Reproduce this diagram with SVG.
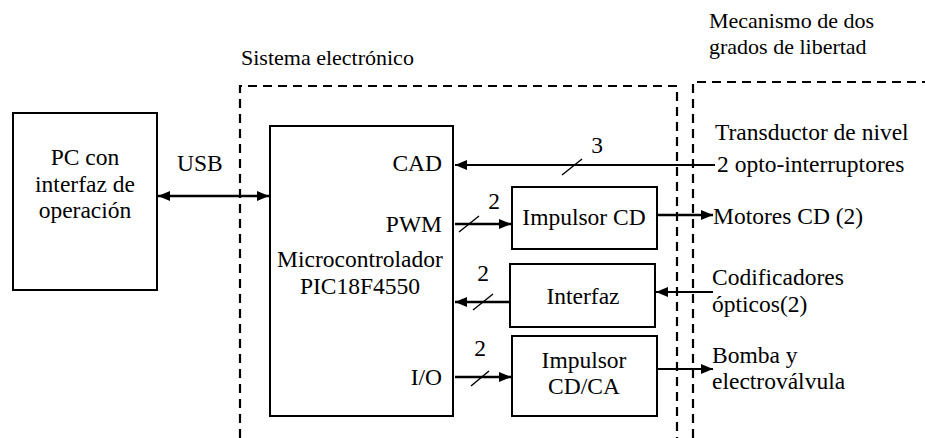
<svg xmlns="http://www.w3.org/2000/svg" width="925" height="438" viewBox="0 0 925 438">
<defs>
<style>
text{font-family:"Liberation Serif","Times New Roman",serif;font-size:23.5px;fill:#000}
.lbl{font-size:22px}
.m{text-anchor:middle}
.e{text-anchor:end}
.box{fill:#fff;stroke:#000;stroke-width:2}
.dash{fill:none;stroke:#000;stroke-width:2.2;stroke-dasharray:9 6}
.w{fill:none;stroke:#000;stroke-width:2.6}
.t{fill:none;stroke:#000;stroke-width:2}
.s{fill:none;stroke:#000;stroke-width:1.5}
</style>
<marker id="ah" viewBox="0 0 12 10" refX="12" refY="5" markerWidth="12" markerHeight="10" markerUnits="userSpaceOnUse" orient="auto-start-reverse">
<path d="M0,0 L12,5 L0,10 z" fill="#000"/>
</marker>
</defs>
<g id="regions">
<path class="dash" d="M240,438 V86 H677 V438"/>
<path class="dash" d="M693,438 V82 H925"/>
<text class="lbl" x="241" y="65">Sistema electrónico</text>
<text class="lbl" x="709" y="28">Mecanismo de dos</text>
<text class="lbl" x="709" y="54">grados de libertad</text>
</g>
<g id="pc">
<rect class="box" x="13" y="113" width="144" height="177"/>
<text class="m" x="85" y="165">PC con</text>
<text class="m" x="85" y="192">interfaz de</text>
<text class="m" x="85" y="218">operación</text>
</g>
<g id="micro">
<rect class="box" x="270" y="126" width="183" height="290"/>
<text class="e" x="442" y="171">CAD</text>
<text class="e" x="442" y="232">PWM</text>
<text class="m" x="360" y="267">Microcontrolador</text>
<text class="m" x="360" y="294">PIC18F4550</text>
<text class="e" x="442" y="385">I/O</text>
</g>
<g id="impulsor-cd">
<rect class="box" x="512" y="187" width="145" height="62"/>
<text class="m" x="584" y="225">Impulsor CD</text>
</g>
<g id="interfaz">
<rect class="box" x="510" y="264" width="145" height="63"/>
<text class="m" x="583" y="304">Interfaz</text>
</g>
<g id="impulsor-cdca">
<rect class="box" x="512" y="336" width="145" height="80"/>
<text class="m" x="584" y="368">Impulsor</text>
<text class="m" x="584" y="394">CD/CA</text>
</g>
<g id="externos">
<text x="715" y="140">Transductor de nivel</text>
<text x="717" y="172">2 opto-interruptores</text>
<text x="713" y="224">Motores CD (2)</text>
<text x="712" y="285">Codificadores</text>
<text x="712" y="312">ópticos(2)</text>
<text x="712" y="363">Bomba y</text>
<text x="712" y="389">electroválvula</text>
</g>
<g id="connectors">
<line class="w" x1="158" y1="196" x2="269" y2="196" marker-start="url(#ah)" marker-end="url(#ah)"/>
<text x="177" y="171">USB</text>
<line class="t" x1="715" y1="165" x2="455" y2="165" marker-end="url(#ah)"/>
<line class="s" x1="562" y1="175" x2="582" y2="159"/>
<text class="m" x="597" y="153">3</text>
<line class="w" x1="455" y1="224" x2="511" y2="224" marker-end="url(#ah)"/>
<line class="s" x1="459" y1="232" x2="479" y2="216"/>
<text class="m" x="494" y="209">2</text>
<line class="w" x1="658" y1="215" x2="713" y2="215" marker-end="url(#ah)"/>
<line class="w" x1="509" y1="302" x2="455" y2="302" marker-end="url(#ah)"/>
<line class="s" x1="473" y1="310" x2="493" y2="294"/>
<text class="m" x="483" y="281">2</text>
<line class="t" x1="713" y1="292" x2="656" y2="292" marker-end="url(#ah)"/>
<line class="w" x1="455" y1="377" x2="511" y2="377" marker-end="url(#ah)"/>
<line class="s" x1="471" y1="386" x2="489" y2="371"/>
<text class="m" x="480" y="356">2</text>
<line class="t" x1="658" y1="369" x2="713" y2="369" marker-end="url(#ah)"/>
</g>
</svg>
